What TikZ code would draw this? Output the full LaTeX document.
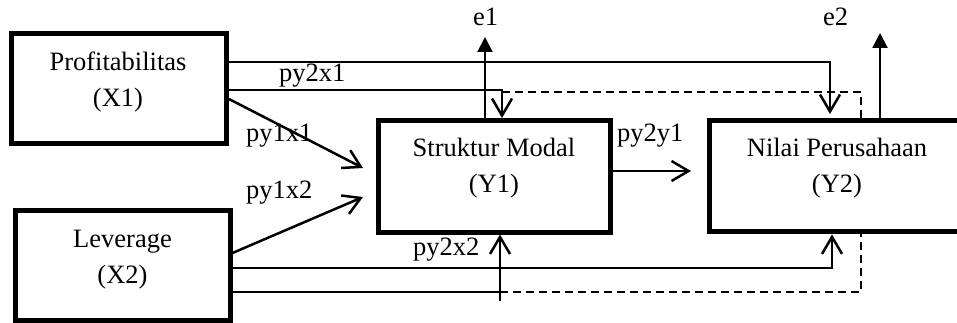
\documentclass[tikz,border=0pt]{standalone}
\usepackage{fontspec}
\setmainfont{Liberation Serif}
\usetikzlibrary{arrows.meta}
\begin{document}
\begin{tikzpicture}[x=1pt,y=-1pt,
  box/.style={draw, line width=5pt, fill=white, inner sep=0pt},
  txt/.style={font=\fontsize{26.5}{32}\selectfont, inner sep=0pt, anchor=base},
  lbl/.style={txt, anchor=base west},
  thinline/.style={line width=1.5pt},
  openarrow/.style={-{Straight Barb[length=17pt,width=20pt,line width=2.5pt]}},
  solidarrow/.style={-{Triangle[length=15pt,width=15pt]}},
  dashline/.style={line width=1.5pt, dash pattern=on 8pt off 5pt}]
\useasboundingbox (0,0) rectangle (957,323);
\clip (0,0) rectangle (957,323);
% boxes
\node[box, minimum width=215pt, minimum height=110pt] (X1) at (119,88.5) {};
\node[box, minimum width=215pt, minimum height=110pt] (X2) at (122.5,265.5) {};
\node[box, minimum width=231.5pt, minimum height=111.5pt] (Y1) at (494.25,176.25) {};
\node[box, minimum width=256pt, minimum height=111pt] (Y2) at (837,176.4) {};
% box texts
\node[txt] (t1a) at (118,70.5) {Profitabilitas};
\node[txt] (t1b) at (118,106.5) {(X1)};
\node[txt] (t2a) at (122.5,247) {Leverage};
\node[txt] (t2b) at (122.5,283) {(X2)};
\node[txt] (t3a) at (494,157) {Struktur Modal};
\node[txt] (t3b) at (494,193) {(Y1)};
\node[txt] (t4a) at (837,157) {Nilai Perusahaan};
\node[txt] (t4b) at (837,193) {(Y2)};
% free ends
\coordinate (tipA) at (830,114);
\coordinate (d1) at (502,92);
\coordinate (d2) at (500,292);
\coordinate (v0) at (500,301);
\coordinate (e1tip) at (485,37);
\coordinate (e2tip) at (880,33);
\coordinate (p11) at (363,168);
\coordinate (p12) at (363,197);
\coordinate (p21) at (691,171);
% connectors
\draw[thinline, openarrow] (X1.east |- 0,62) -| (tipA);
\draw[thinline, openarrow] (X1.east |- 0,90) -| (Y1.north -| 502,0);
\draw[dashline] (d1) -| (Y2.north -| 861,0);
\draw[thinline] (X2.east |- 0,292) -- (d2);
\draw[dashline] (d2) -| (Y2.south -| 861,0);
\draw[thinline, openarrow] (X2.east |- 0,268) -| (Y2.south -| 832,0);
\draw[line width=2pt, openarrow] (v0) -- (Y1.south -| v0);
\draw[line width=2pt, solidarrow] (Y1.north -| e1tip) -- (e1tip);
\draw[line width=2pt, solidarrow] (Y2.north -| e2tip) -- (e2tip);
\draw[line width=2.5pt, openarrow] (X1.east |- 0,99) -- (p11);
\draw[line width=2.5pt, openarrow] (X2.east |- 0,253) -- (p12);
\draw[line width=2.3pt, openarrow] (Y1.east |- p21) -- (p21);
% labels
\node[lbl] (lA) at (279,82) {py2x1};
\node[lbl] (lB) at (246,142) {py1x1};
\node[lbl] (lC) at (246,198) {py1x2};
\node[lbl] (lD) at (413,255) {py2x2};
\node[lbl] (lE) at (617,142) {py2y1};
\node[lbl] (lF) at (473,26) {e1};
\node[lbl] (lG) at (823,26) {e2};
\end{tikzpicture}
\end{document}
